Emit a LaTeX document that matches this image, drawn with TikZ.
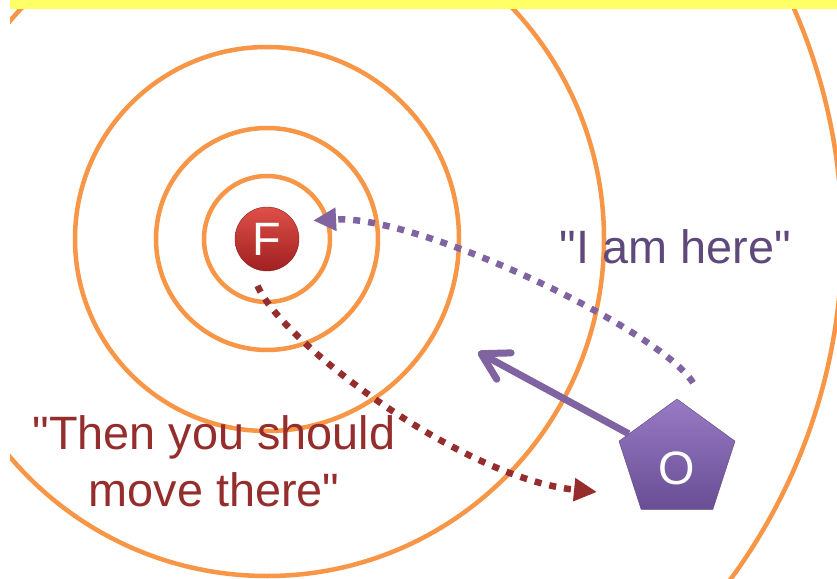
\documentclass[tikz,border=0pt]{standalone}
\usepackage{fontspec}
\setmainfont{Liberation Sans}[Ligatures=TeXOff]
\usetikzlibrary{arrows.meta,shapes.geometric}
\definecolor{ringorange}{RGB}{247,150,70}
\definecolor{baryellow}{RGB}{255,255,102}
\definecolor{opurple}{RGB}{128,100,162}
\definecolor{otext}{RGB}{95,73,122}
\definecolor{fred}{RGB}{150,45,45}

\begin{document}
\begin{tikzpicture}[x=1bp, y=-1bp, every node/.style={font=\fontsize{47}{57}\selectfont}]
\tikzset{ring/.style={draw=ringorange, line width=4.5bp}}
\tikzset{ball/.style={circle, minimum size=64bp, inner sep=0pt, text=white, draw={rgb,255:red,140;green,30;blue,30}, top color={rgb,255:red,222;green,80;blue,72}, bottom color={rgb,255:red,160;green,32;blue,32}}}
\tikzset{penta/.style={regular polygon, regular polygon sides=5, minimum size=122bp, inner sep=0pt, text=white, text height=50bp, draw={rgb,255:red,96;green,73;blue,122}, top color={rgb,255:red,152;green,122;blue,196}, bottom color={rgb,255:red,104;green,78;blue,148}}}
\tikzset{dotline/.style={line width=6.5bp, dash pattern=on 7bp off 8bp, -{Triangle[length=23bp,width=22bp]}}}
\tikzset{mvarrow/.style={draw=opurple, line width=7bp, -{Straight Barb[length=26bp,width=30bp,round]}}}
\useasboundingbox (0,0) rectangle (837,579);
\fill[white] (0,0) rectangle (837,579);
\node[ball] (F) at (267,239) {F};
% rings round F
\begin{scope}
\clip (10,9) rectangle (837,579);
\foreach \r in {63,111,192,337,575}
  \draw[ring] (F) circle[radius=\r];
\end{scope}
\fill[baryellow] (10,0) rectangle (837,9);
\node[penta] (O) at (677,460) {O};
\node[text=otext, anchor=base] (here) at (675.5,263) {"I am here"};
\node[text=fred, align=center, inner sep=0pt] (then) at (214,461.5) {"Then you should\\move there"};
\coordinate (goal) at (478,352);
\coordinate (there) at (597,492);
\draw[mvarrow] (O) -- (goal);
\draw[dotline, opurple] ([xshift=16bp,yshift=16bp]O.corner 1) .. controls (660,330) and (420,215) .. ([xshift=16bp,yshift=7bp]F.21);
\draw[dotline, fred] ([yshift=-16bp]F.-107) .. controls (280,340) and (460,478) .. (there);
\end{tikzpicture}
\end{document}
